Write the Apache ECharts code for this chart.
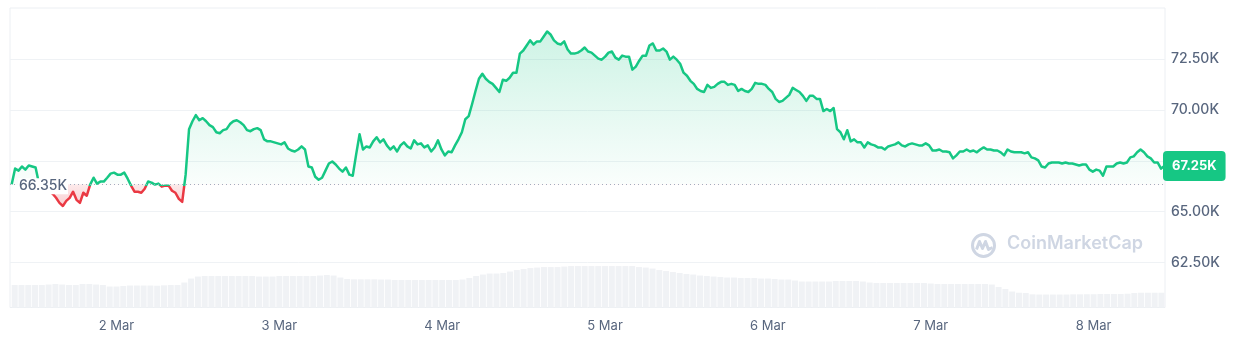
<!DOCTYPE html>
<html>
<head>
<meta charset="utf-8">
<script src="https://cdn.jsdelivr.net/npm/echarts@6/dist/echarts.min.js"></script>
<style>
  html, body { margin: 0; padding: 0; background: #ffffff; }
  #chart { width: 1243px; height: 345px; }
</style>
</head>
<body>
<div id="chart"></div>
<script>
// ---- data (prices in thousands of USD, 30-minute steps from 1 Mar 09:00) ----
const monthNames = ['Jan','Feb','Mar','Apr','May','Jun','Jul','Aug','Sep','Oct','Nov','Dec'];
const startTime = new Date(2024, 2, 1, 9, 0, 0).getTime();
const priceStepMin = 30;
const volumeStepMin = 60;
const baselinePrice = 66.35;
const lastPrice = 67.25;
const yTicks = { min: 60, max: 75, interval: 2.5 };
const hiddenYLabels = [60, 67.5, 75];

const prices = [
  66.35,67.12,67.02,67.22,67.07,67.27,67.22,67.17,66.38,66.28,
  66.13,65.98,65.88,65.68,65.43,65.28,65.53,65.68,65.98,65.58,
  65.43,65.93,65.78,66.33,66.67,66.38,66.48,66.48,66.67,66.87,
  66.92,66.82,66.82,66.92,66.62,66.28,65.98,65.98,65.93,66.13,
  66.48,66.43,66.33,66.38,66.23,66.28,66.28,66.03,65.93,65.63,
  65.48,66.82,69.06,69.45,69.75,69.50,69.60,69.45,69.26,69.16,
  68.91,68.86,69.01,69.06,69.31,69.45,69.50,69.40,69.26,69.01,
  68.96,69.06,69.11,69.01,68.56,68.46,68.46,68.41,68.36,68.31,
  68.41,68.11,68.01,67.96,68.06,68.21,68.06,67.22,67.17,66.72,
  66.57,66.67,67.02,67.37,67.47,67.32,67.12,66.97,67.17,66.82,
  66.77,67.82,68.81,68.06,68.21,68.16,68.46,68.66,68.41,68.56,
  68.26,68.06,68.21,67.96,68.26,68.41,68.21,68.11,68.51,68.31,
  68.36,68.16,68.26,67.96,68.16,68.51,68.06,67.77,67.96,67.92,
  68.26,68.56,68.91,69.55,69.70,70.30,70.94,71.54,71.79,71.54,
  71.39,71.29,71.09,70.89,71.49,71.44,71.59,71.84,71.84,72.78,
  72.93,73.18,73.43,73.23,73.38,73.38,73.62,73.87,73.72,73.43,
  73.28,73.23,73.38,72.98,72.78,72.78,72.83,72.93,73.08,72.88,
  72.83,72.68,72.53,72.48,72.63,72.83,72.88,72.58,72.48,72.68,
  72.63,72.63,71.99,72.14,72.43,72.68,72.68,73.18,73.28,72.93,
  72.93,73.03,72.88,72.48,72.63,72.48,72.28,71.84,71.69,71.44,
  71.29,71.04,70.94,70.89,71.24,71.09,71.14,71.29,71.39,71.39,
  71.24,71.29,71.24,70.94,71.04,70.94,70.89,71.04,71.34,71.29,
  71.29,71.24,71.04,70.89,70.55,70.40,70.45,70.60,70.75,71.09,
  70.99,70.89,70.70,70.45,70.70,70.70,70.55,70.55,69.95,70.05,
  69.95,70.10,69.06,68.91,68.56,69.01,68.46,68.56,68.41,68.41,
  68.16,68.41,68.31,68.26,68.16,68.16,68.06,68.21,68.26,68.31,
  68.41,68.26,68.21,68.31,68.36,68.31,68.26,68.26,68.36,68.26,
  68.01,68.01,68.06,67.96,67.96,67.92,67.62,67.77,67.96,67.96,
  68.06,67.96,68.01,67.92,68.06,68.16,68.06,68.06,68.01,68.01,
  67.92,67.77,68.06,67.96,67.92,67.92,67.92,67.87,67.92,67.67,
  67.62,67.52,67.22,67.17,67.37,67.42,67.42,67.42,67.37,67.42,
  67.37,67.37,67.32,67.27,67.32,67.32,67.07,66.97,67.07,67.02,
  66.77,67.22,67.22,67.22,67.37,67.42,67.37,67.42,67.67,67.72,
  67.92,68.06,67.92,67.72,67.62,67.42,67.42,67.12,67.25
];

// hourly 24h volume (billions of USD)
const volumes = [
  22.5,22.5,22.5,22.5,22.5,23,23.5,23,22.5,22.5,
  23.5,23.5,23,22.5,21,21,21.5,22,22,22,
  22,21.8,22.2,22.5,22.5,25,29,31,31.5,31.5,
  31.5,31.5,31.5,31.5,31.5,31.5,31,31,31,31.5,
  31.5,31.5,31.5,31.5,31.5,32,32.5,32,30,28.5,
  28.2,28.2,28.2,28.2,28,28,27.5,27.5,27.5,27.5,
  27.5,27.5,27.5,27.5,27.5,27.5,28,29.5,31.5,33,
  34,34,34.5,36,37.5,38.5,39.5,40,40.5,40.5,
  40.5,41,41.5,41.5,41.5,41.5,41.5,41.5,41.5,41.5,
  41.5,41.5,40.5,40,39,37.5,36.5,35.5,34.5,33.5,
  33,32,31.5,31,30.5,30,30,29.5,29.5,29.5,
  29,29,28.5,28,28,27,26,26,26,26,
  26,26.5,26.5,26.5,26.5,26,25,24.5,24.5,24.5,
  24.5,24.5,24.5,24.5,24.5,24,23.5,23.5,23.5,23.5,
  23.5,23.5,23.5,23.5,23,20.5,18.5,16,14.8,14.5,
  13.2,13,13,13,13,13,13.2,13.2,13.3,13.3,
  13.5,13.5,13.5,13.5,13.8,14.5,14.8,14.8,14.8,14.8
];
const volumeAxisMax = 300;

// ---- build ----
const MIN = 60 * 1000;
const priceData = prices.map((p, i) => [startTime + i * priceStepMin * MIN, p]);
const volumeData = volumes.map((v, i) => [startTime + i * volumeStepMin * MIN, v]);
const xMin = startTime - 15 * MIN;
const xMax = startTime + (prices.length - 1) * priceStepMin * MIN + 5 * MIN;

const GREEN = '#16c784', RED = '#ea3943';
const pMax = Math.max(...prices), pMin = Math.min(...prices);
const off = (pMax - baselinePrice) / (pMax - pMin);
const G = echarts.graphic;
const lineGrad = new G.LinearGradient(0, 0, 0, 1, [
  { offset: 0, color: GREEN }, { offset: off, color: GREEN },
  { offset: off, color: RED }, { offset: 1, color: RED }
]);
const areaGrad = new G.LinearGradient(0, 0, 0, 1, [
  { offset: 0, color: 'rgba(22,199,132,0.30)' }, { offset: off, color: 'rgba(22,199,132,0.03)' },
  { offset: off, color: 'rgba(234,57,67,0.15)' }, { offset: 1, color: 'rgba(234,57,67,0.35)' }
]);

const FONT = 'Inter, "Noto Sans", sans-serif';
const TXT = '#58667e';

const chart = echarts.init(document.getElementById('chart'), null, { renderer: 'canvas' });
chart.setOption({
  animation: false,
  backgroundColor: '#ffffff',
  grid: [
    { left: 10, right: 78, top: 8.5, bottom: 31.8 },
    { left: 10, right: 78, top: 8, bottom: 37.5, show: true, borderColor: '#eceff3', borderWidth: 1, backgroundColor: 'transparent' }
  ],
  xAxis: [
    { type: 'time', gridIndex: 0, min: xMin, max: xMax, show: false },
    {
      type: 'time', gridIndex: 1, min: xMin, max: xMax,
      minInterval: 24 * 60 * MIN, maxInterval: 24 * 60 * MIN,
      axisLine: { show: false }, axisTick: { show: false }, splitLine: { show: false },
      axisLabel: {
        color: TXT, fontSize: 13, fontFamily: FONT, margin: 12,
        formatter: v => { const d = new Date(v); return d.getDate() + ' ' + monthNames[d.getMonth()]; }
      }
    }
  ],
  yAxis: [
    {
      type: 'value', gridIndex: 0, position: 'right', min: yTicks.min, max: yTicks.max, interval: yTicks.interval,
      axisLine: { show: false }, axisTick: { show: false },
      splitLine: { show: true, showMinLine: false, showMaxLine: false, lineStyle: { color: '#eff2f5', width: 1 } },
      axisLabel: {
        color: TXT, fontSize: 14, fontWeight: 500, fontFamily: FONT, margin: 6,
        formatter: v => hiddenYLabels.some(h => Math.abs(h - v) < 1e-6) ? '' : v.toFixed(2) + 'K'
      }
    },
    { type: 'value', gridIndex: 1, min: 0, max: volumeAxisMax, show: false }
  ],
  graphic: [
    {
      type: 'group', left: 970, top: 232, silent: true, z: 0,
      children: [
        { type: 'circle', shape: { cx: 13, cy: 13, r: 11 }, style: { fill: 'none', stroke: '#cfd6e3', lineWidth: 3 } },
        { type: 'polyline', shape: { points: [[6, 17], [9, 9], [12, 16], [15, 9], [18, 17], [22, 15]] }, style: { fill: 'none', stroke: '#cfd6e3', lineWidth: 3, lineJoin: 'round' } }
      ]
    },
    {
      type: 'text', left: 1007, top: 235, silent: true, z: 0,
      style: { text: 'CoinMarketCap', fill: '#cfd6e3', font: '600 18px ' + FONT }
    }
  ],
  series: [
    {
      type: 'bar', xAxisIndex: 1, yAxisIndex: 1, data: volumeData, barWidth: 6,
      itemStyle: { color: '#f0f2f5' }, silent: true
    },
    {
      type: 'line', xAxisIndex: 0, yAxisIndex: 0, data: priceData,
      showSymbol: false, symbol: 'none', smooth: false,
      lineStyle: { width: 2.5, color: lineGrad, join: 'round' },
      itemStyle: { color: GREEN },
      areaStyle: { color: areaGrad, origin: baselinePrice },
      markLine: {
        silent: true, symbol: ['none', 'none'],
        data: [
          { yAxis: baselinePrice, lineStyle: { type: [1, 3], color: '#a3acbd', width: 1 }, label: { show: false } },
          {
            yAxis: lastPrice, lineStyle: { width: 0, color: 'rgba(0,0,0,0)' },
            label: {
              show: true, position: 'end', distance: -2, formatter: lastPrice.toFixed(2) + 'K',
              color: '#ffffff', backgroundColor: GREEN, borderRadius: 4, padding: [9, 9, 8, 9],
              fontSize: 13, fontWeight: 700, fontFamily: FONT
            }
          }
        ]
      },
      markPoint: {
        silent: true,
        data: [{
          coord: [xMin, baselinePrice], symbol: 'rect', symbolSize: [50, 16], symbolOffset: [33, 2],
          itemStyle: { color: '#ffffff' },
          label: { show: true, position: 'inside', formatter: baselinePrice.toFixed(2) + 'K', color: TXT, fontSize: 14, fontWeight: 500, fontFamily: FONT }
        }]
      }
    }
  ]
});
</script>
</body>
</html>
